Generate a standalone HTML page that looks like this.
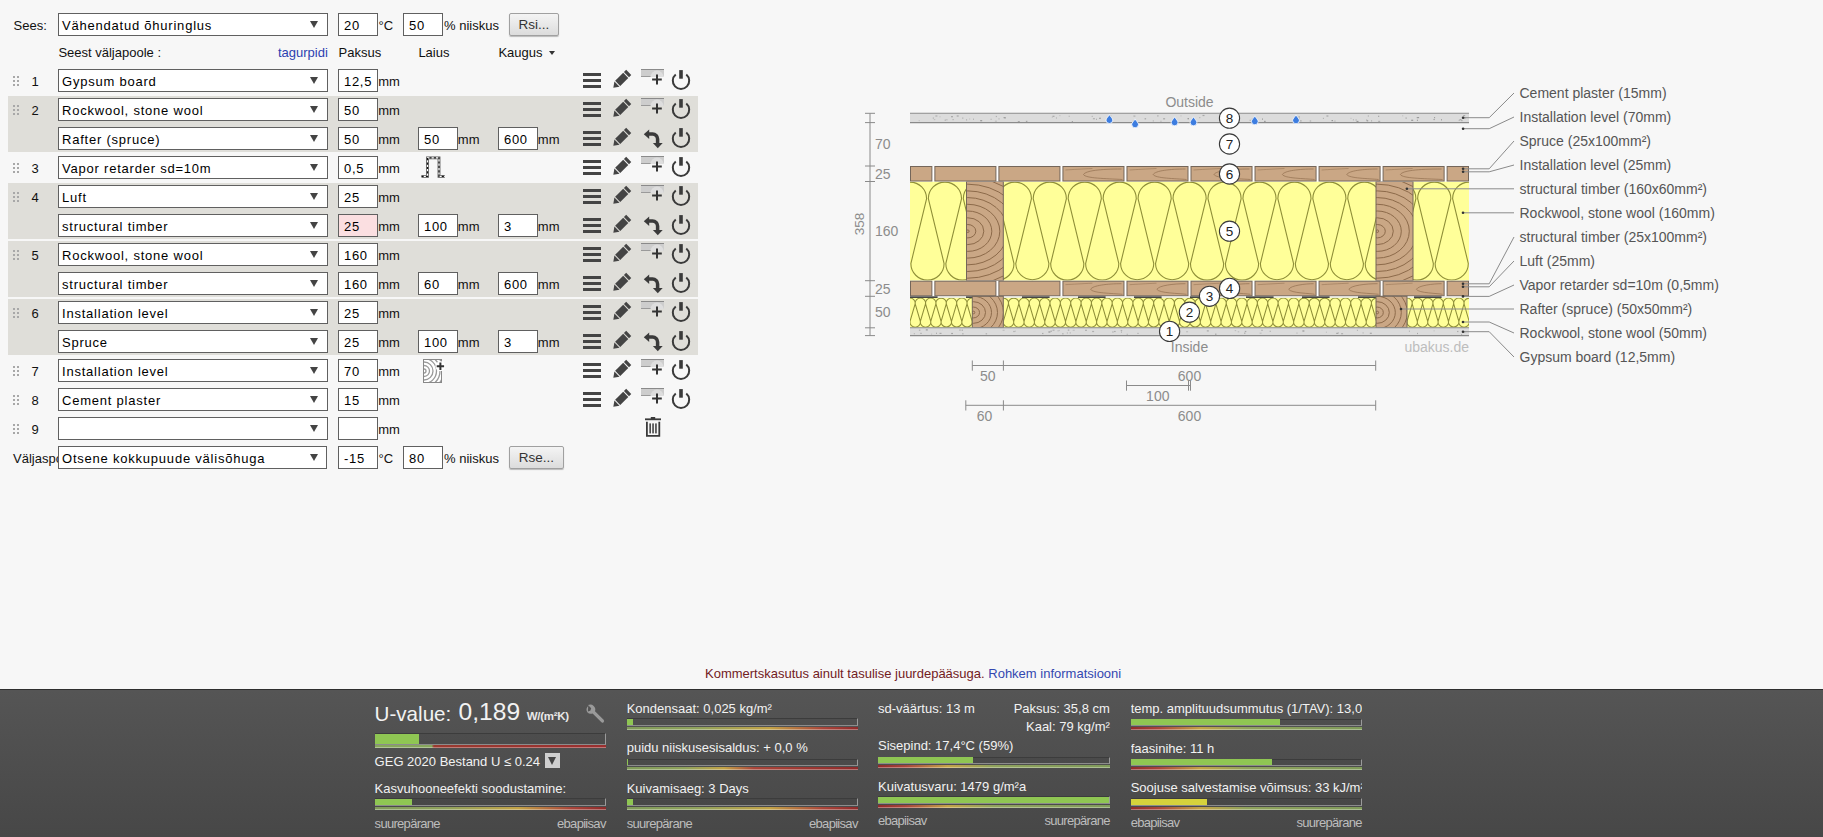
<!DOCTYPE html>
<html><head><meta charset="utf-8"><title>U-value</title>
<style>
*{box-sizing:border-box}
html,body{margin:0;padding:0}
body{width:1823px;height:837px;overflow:hidden;background:#f7f7f7;position:relative;font-family:"Liberation Sans",sans-serif;}
.t{position:absolute;white-space:nowrap;font-family:"Liberation Sans",sans-serif;}
.sel{position:absolute;width:270px;height:23px;background:#fff;border:1px solid #606060;}
.sel .v{position:absolute;left:3px;top:3.5px;font-size:13px;line-height:16px;letter-spacing:0.78px;color:#000;white-space:nowrap}
.sel .ar{position:absolute;left:251px;top:7px;width:0;height:0;border-left:4px solid transparent;border-right:4px solid transparent;border-top:7px solid #444}
.inp{position:absolute;width:40px;height:23px;background:#fff;border:1px solid #606060;}
.inp .v{position:absolute;left:5px;top:4px;font-size:13px;line-height:16px;letter-spacing:0.7px;color:#000;white-space:nowrap}
.btn{position:absolute;height:23px;border:1px solid #a0a0a0;border-radius:2px;background:linear-gradient(#f4f4f4,#dcdcdc);box-shadow:0 1px 1px rgba(0,0,0,.25);font-size:13.5px;line-height:21px;color:#333;text-align:center}
.band{position:absolute;left:8px;width:690px;background:#dfded9}
.dot{position:absolute;width:2px;height:2px;background:#a8a8a8}
svg{position:absolute;left:0;top:0;overflow:visible}
</style></head><body>

<div class="band" style="top:96px;height:56px"></div>
<div class="band" style="top:183px;height:56px"></div>
<div class="band" style="top:241px;height:56px"></div>
<div class="band" style="top:299px;height:56px"></div>
<div class="t " style="left:13.50px;top:18.70px;font-size:13px;line-height:13px;color:#111;">Sees:</div>
<div class="sel" style="left:58px;top:13px;width:270px"><span class="v">Vähendatud õhuringlus</span><span class="ar" style="left:251px"></span></div>
<div class="inp" style="left:338px;top:13px;background:#fff"><span class="v">20</span></div>
<div class="t " style="left:378.50px;top:18.70px;font-size:13px;line-height:13px;color:#111;">°C</div>
<div class="inp" style="left:403px;top:13px;background:#fff"><span class="v">50</span></div>
<div class="t " style="left:444.00px;top:18.70px;font-size:13px;line-height:13px;color:#111;">% niiskus</div>
<div class="btn" style="left:509px;top:13px;width:50px">Rsi...</div>
<div class="t " style="left:58.40px;top:45.60px;font-size:13px;line-height:13px;color:#111;">Seest väljapoole :</div>
<div class="t " style="right:1495.20px;text-align:right;top:45.60px;font-size:13px;line-height:13px;color:#2c3fb0;">tagurpidi</div>
<div class="t " style="left:338.60px;top:45.60px;font-size:13px;line-height:13px;color:#111;">Paksus</div>
<div class="t " style="left:418.40px;top:45.60px;font-size:13px;line-height:13px;color:#111;">Laius</div>
<div class="t " style="left:498.40px;top:45.60px;font-size:13px;line-height:13px;color:#111;">Kaugus</div>
<div style="position:absolute;left:549px;top:51px;width:0;height:0;border-left:3px solid transparent;border-right:3px solid transparent;border-top:4px solid #333"></div>
<div class="dot" style="left:13px;top:76px"></div>
<div class="dot" style="left:13px;top:80px"></div>
<div class="dot" style="left:13px;top:84px"></div>
<div class="dot" style="left:17px;top:76px"></div>
<div class="dot" style="left:17px;top:80px"></div>
<div class="dot" style="left:17px;top:84px"></div>
<div class="t " style="left:31.50px;top:74.70px;font-size:13px;line-height:13px;color:#111;">1</div>
<div class="sel" style="left:58px;top:69px;width:270px"><span class="v">Gypsum board</span><span class="ar" style="left:251px"></span></div>
<div class="inp" style="left:338px;top:69px;background:#fff"><span class="v">12,5</span></div>
<div class="t " style="left:378.20px;top:74.70px;font-size:13px;line-height:13px;color:#111;">mm</div>
<div class="dot" style="left:13px;top:105px"></div>
<div class="dot" style="left:13px;top:109px"></div>
<div class="dot" style="left:13px;top:113px"></div>
<div class="dot" style="left:17px;top:105px"></div>
<div class="dot" style="left:17px;top:109px"></div>
<div class="dot" style="left:17px;top:113px"></div>
<div class="t " style="left:31.50px;top:103.70px;font-size:13px;line-height:13px;color:#111;">2</div>
<div class="sel" style="left:58px;top:98px;width:270px"><span class="v">Rockwool, stone wool</span><span class="ar" style="left:251px"></span></div>
<div class="inp" style="left:338px;top:98px;background:#fff"><span class="v">50</span></div>
<div class="t " style="left:378.20px;top:103.70px;font-size:13px;line-height:13px;color:#111;">mm</div>
<div class="sel" style="left:58px;top:127px;width:270px"><span class="v">Rafter (spruce)</span><span class="ar" style="left:251px"></span></div>
<div class="inp" style="left:338px;top:127px;background:#fff"><span class="v">50</span></div>
<div class="t " style="left:378.20px;top:132.70px;font-size:13px;line-height:13px;color:#111;">mm</div>
<div class="inp" style="left:418px;top:127px;background:#fff"><span class="v">50</span></div>
<div class="t " style="left:457.80px;top:132.70px;font-size:13px;line-height:13px;color:#111;">mm</div>
<div class="inp" style="left:498px;top:127px;background:#fff"><span class="v">600</span></div>
<div class="t " style="left:537.80px;top:132.70px;font-size:13px;line-height:13px;color:#111;">mm</div>
<div class="dot" style="left:13px;top:163px"></div>
<div class="dot" style="left:13px;top:167px"></div>
<div class="dot" style="left:13px;top:171px"></div>
<div class="dot" style="left:17px;top:163px"></div>
<div class="dot" style="left:17px;top:167px"></div>
<div class="dot" style="left:17px;top:171px"></div>
<div class="t " style="left:31.50px;top:161.70px;font-size:13px;line-height:13px;color:#111;">3</div>
<div class="sel" style="left:58px;top:156px;width:270px"><span class="v">Vapor retarder sd=10m</span><span class="ar" style="left:251px"></span></div>
<div class="inp" style="left:338px;top:156px;background:#fff"><span class="v">0,5</span></div>
<div class="t " style="left:378.20px;top:161.70px;font-size:13px;line-height:13px;color:#111;">mm</div>
<div class="dot" style="left:13px;top:192px"></div>
<div class="dot" style="left:13px;top:196px"></div>
<div class="dot" style="left:13px;top:200px"></div>
<div class="dot" style="left:17px;top:192px"></div>
<div class="dot" style="left:17px;top:196px"></div>
<div class="dot" style="left:17px;top:200px"></div>
<div class="t " style="left:31.50px;top:190.70px;font-size:13px;line-height:13px;color:#111;">4</div>
<div class="sel" style="left:58px;top:185px;width:270px"><span class="v">Luft</span><span class="ar" style="left:251px"></span></div>
<div class="inp" style="left:338px;top:185px;background:#fff"><span class="v">25</span></div>
<div class="t " style="left:378.20px;top:190.70px;font-size:13px;line-height:13px;color:#111;">mm</div>
<div class="sel" style="left:58px;top:214px;width:270px"><span class="v">structural timber</span><span class="ar" style="left:251px"></span></div>
<div class="inp" style="left:338px;top:214px;background:#fbdfe1"><span class="v">25</span></div>
<div class="t " style="left:378.20px;top:219.70px;font-size:13px;line-height:13px;color:#111;">mm</div>
<div class="inp" style="left:418px;top:214px;background:#fff"><span class="v">100</span></div>
<div class="t " style="left:457.80px;top:219.70px;font-size:13px;line-height:13px;color:#111;">mm</div>
<div class="inp" style="left:498px;top:214px;background:#fff"><span class="v">3</span></div>
<div class="t " style="left:537.80px;top:219.70px;font-size:13px;line-height:13px;color:#111;">mm</div>
<div class="dot" style="left:13px;top:250px"></div>
<div class="dot" style="left:13px;top:254px"></div>
<div class="dot" style="left:13px;top:258px"></div>
<div class="dot" style="left:17px;top:250px"></div>
<div class="dot" style="left:17px;top:254px"></div>
<div class="dot" style="left:17px;top:258px"></div>
<div class="t " style="left:31.50px;top:248.70px;font-size:13px;line-height:13px;color:#111;">5</div>
<div class="sel" style="left:58px;top:243px;width:270px"><span class="v">Rockwool, stone wool</span><span class="ar" style="left:251px"></span></div>
<div class="inp" style="left:338px;top:243px;background:#fff"><span class="v">160</span></div>
<div class="t " style="left:378.20px;top:248.70px;font-size:13px;line-height:13px;color:#111;">mm</div>
<div class="sel" style="left:58px;top:272px;width:270px"><span class="v">structural timber</span><span class="ar" style="left:251px"></span></div>
<div class="inp" style="left:338px;top:272px;background:#fff"><span class="v">160</span></div>
<div class="t " style="left:378.20px;top:277.70px;font-size:13px;line-height:13px;color:#111;">mm</div>
<div class="inp" style="left:418px;top:272px;background:#fff"><span class="v">60</span></div>
<div class="t " style="left:457.80px;top:277.70px;font-size:13px;line-height:13px;color:#111;">mm</div>
<div class="inp" style="left:498px;top:272px;background:#fff"><span class="v">600</span></div>
<div class="t " style="left:537.80px;top:277.70px;font-size:13px;line-height:13px;color:#111;">mm</div>
<div class="dot" style="left:13px;top:308px"></div>
<div class="dot" style="left:13px;top:312px"></div>
<div class="dot" style="left:13px;top:316px"></div>
<div class="dot" style="left:17px;top:308px"></div>
<div class="dot" style="left:17px;top:312px"></div>
<div class="dot" style="left:17px;top:316px"></div>
<div class="t " style="left:31.50px;top:306.70px;font-size:13px;line-height:13px;color:#111;">6</div>
<div class="sel" style="left:58px;top:301px;width:270px"><span class="v">Installation level</span><span class="ar" style="left:251px"></span></div>
<div class="inp" style="left:338px;top:301px;background:#fff"><span class="v">25</span></div>
<div class="t " style="left:378.20px;top:306.70px;font-size:13px;line-height:13px;color:#111;">mm</div>
<div class="sel" style="left:58px;top:330px;width:270px"><span class="v">Spruce</span><span class="ar" style="left:251px"></span></div>
<div class="inp" style="left:338px;top:330px;background:#fff"><span class="v">25</span></div>
<div class="t " style="left:378.20px;top:335.70px;font-size:13px;line-height:13px;color:#111;">mm</div>
<div class="inp" style="left:418px;top:330px;background:#fff"><span class="v">100</span></div>
<div class="t " style="left:457.80px;top:335.70px;font-size:13px;line-height:13px;color:#111;">mm</div>
<div class="inp" style="left:498px;top:330px;background:#fff"><span class="v">3</span></div>
<div class="t " style="left:537.80px;top:335.70px;font-size:13px;line-height:13px;color:#111;">mm</div>
<div class="dot" style="left:13px;top:366px"></div>
<div class="dot" style="left:13px;top:370px"></div>
<div class="dot" style="left:13px;top:374px"></div>
<div class="dot" style="left:17px;top:366px"></div>
<div class="dot" style="left:17px;top:370px"></div>
<div class="dot" style="left:17px;top:374px"></div>
<div class="t " style="left:31.50px;top:364.70px;font-size:13px;line-height:13px;color:#111;">7</div>
<div class="sel" style="left:58px;top:359px;width:270px"><span class="v">Installation level</span><span class="ar" style="left:251px"></span></div>
<div class="inp" style="left:338px;top:359px;background:#fff"><span class="v">70</span></div>
<div class="t " style="left:378.20px;top:364.70px;font-size:13px;line-height:13px;color:#111;">mm</div>
<div class="dot" style="left:13px;top:395px"></div>
<div class="dot" style="left:13px;top:399px"></div>
<div class="dot" style="left:13px;top:403px"></div>
<div class="dot" style="left:17px;top:395px"></div>
<div class="dot" style="left:17px;top:399px"></div>
<div class="dot" style="left:17px;top:403px"></div>
<div class="t " style="left:31.50px;top:393.70px;font-size:13px;line-height:13px;color:#111;">8</div>
<div class="sel" style="left:58px;top:388px;width:270px"><span class="v">Cement plaster</span><span class="ar" style="left:251px"></span></div>
<div class="inp" style="left:338px;top:388px;background:#fff"><span class="v">15</span></div>
<div class="t " style="left:378.20px;top:393.70px;font-size:13px;line-height:13px;color:#111;">mm</div>
<div class="dot" style="left:13px;top:424px"></div>
<div class="dot" style="left:13px;top:428px"></div>
<div class="dot" style="left:13px;top:432px"></div>
<div class="dot" style="left:17px;top:424px"></div>
<div class="dot" style="left:17px;top:428px"></div>
<div class="dot" style="left:17px;top:432px"></div>
<div class="t " style="left:31.50px;top:422.70px;font-size:13px;line-height:13px;color:#111;">9</div>
<div class="sel" style="left:58px;top:417px;width:270px"><span class="v"></span><span class="ar" style="left:251px"></span></div>
<div class="inp" style="left:338px;top:417px;background:#fff"><span class="v"></span></div>
<div class="t " style="left:378.20px;top:422.70px;font-size:13px;line-height:13px;color:#111;">mm</div>
<div class="t " style="left:13.00px;top:451.70px;font-size:13px;line-height:13px;color:#111;">Väljaspool:</div>
<div class="sel" style="left:58px;top:446px;width:269px"><span class="v">Otsene kokkupuude välisõhuga</span><span class="ar" style="left:251px"></span></div>
<div class="inp" style="left:338px;top:446px;background:#fff"><span class="v">-15</span></div>
<div class="t " style="left:378.50px;top:451.70px;font-size:13px;line-height:13px;color:#111;">°C</div>
<div class="inp" style="left:403px;top:446px;background:#fff"><span class="v">80</span></div>
<div class="t " style="left:444.00px;top:451.70px;font-size:13px;line-height:13px;color:#111;">% niiskus</div>
<div class="btn" style="left:509px;top:446px;width:55px">Rse...</div>
<svg width="1823" height="689" viewBox="0 0 1823 689"><g fill="#444"><rect x="583" y="73" width="18" height="3"/><rect x="583" y="79" width="18" height="3"/><rect x="583" y="85" width="18" height="3"/></g><g transform="translate(613.3 87.8) rotate(-45)" fill="#444"><path d="M0 0 L5.2 -3.6 L5.2 3.6 Z"/><rect x="6.2" y="-3.6" width="11.4" height="7.2"/><rect x="18.6" y="-3.6" width="3.2" height="7.2"/></g><g><rect x="641" y="69.5" width="23" height="7" fill="#cdcdcd"/><path d="M641 69.5 H664" stroke="#8a8a8a" stroke-width="1"/><path d="M641 76.5 H651" stroke="#9a9a9a" stroke-width="1"/><path d="M650.5 77 A6.5 6.5 0 0 1 663.5 77 Z" fill="#dedede"/><path d="M657 74.6 V84.6 M652.1 79.5 H661.8" stroke="#333" stroke-width="2"/></g><g><path d="M675.73 74.42 A8.2 8.2 0 1 0 686.27 74.42" fill="none" stroke="#3a3a3a" stroke-width="2"/><rect x="679.2" y="70.1" width="3.6" height="8.6" fill="#3a3a3a"/></g><g fill="#444"><rect x="583" y="102" width="18" height="3"/><rect x="583" y="108" width="18" height="3"/><rect x="583" y="114" width="18" height="3"/></g><g transform="translate(613.3 116.8) rotate(-45)" fill="#444"><path d="M0 0 L5.2 -3.6 L5.2 3.6 Z"/><rect x="6.2" y="-3.6" width="11.4" height="7.2"/><rect x="18.6" y="-3.6" width="3.2" height="7.2"/></g><g><rect x="641" y="98.5" width="23" height="7" fill="#cdcdcd"/><path d="M641 98.5 H664" stroke="#8a8a8a" stroke-width="1"/><path d="M641 105.5 H651" stroke="#9a9a9a" stroke-width="1"/><path d="M650.5 106 A6.5 6.5 0 0 1 663.5 106 Z" fill="#dedede"/><path d="M657 103.6 V113.6 M652.1 108.5 H661.8" stroke="#333" stroke-width="2"/></g><g><path d="M675.73 103.42 A8.2 8.2 0 1 0 686.27 103.42" fill="none" stroke="#3a3a3a" stroke-width="2"/><rect x="679.2" y="99.1" width="3.6" height="8.6" fill="#3a3a3a"/></g><g fill="#444"><rect x="583" y="131" width="18" height="3"/><rect x="583" y="137" width="18" height="3"/><rect x="583" y="143" width="18" height="3"/></g><g transform="translate(613.3 145.8) rotate(-45)" fill="#444"><path d="M0 0 L5.2 -3.6 L5.2 3.6 Z"/><rect x="6.2" y="-3.6" width="11.4" height="7.2"/><rect x="18.6" y="-3.6" width="3.2" height="7.2"/></g><g transform="translate(0 0)"><path d="M648.5 134 H652.6 A5 5 0 0 1 657.6 139 V143.6" fill="none" stroke="#3a3a3a" stroke-width="3.5"/><path d="M643.8 134.3 L649.2 129.6 L649.2 139 Z" fill="#3a3a3a"/><path d="M652.9 143 L662.7 143 L657.8 148.2 Z" fill="#3a3a3a"/></g><g><path d="M675.73 132.42 A8.2 8.2 0 1 0 686.27 132.42" fill="none" stroke="#3a3a3a" stroke-width="2"/><rect x="679.2" y="128.1" width="3.6" height="8.6" fill="#3a3a3a"/></g><g fill="#444"><rect x="583" y="160" width="18" height="3"/><rect x="583" y="166" width="18" height="3"/><rect x="583" y="172" width="18" height="3"/></g><g transform="translate(613.3 174.8) rotate(-45)" fill="#444"><path d="M0 0 L5.2 -3.6 L5.2 3.6 Z"/><rect x="6.2" y="-3.6" width="11.4" height="7.2"/><rect x="18.6" y="-3.6" width="3.2" height="7.2"/></g><g><rect x="641" y="156.5" width="23" height="7" fill="#cdcdcd"/><path d="M641 156.5 H664" stroke="#8a8a8a" stroke-width="1"/><path d="M641 163.5 H651" stroke="#9a9a9a" stroke-width="1"/><path d="M650.5 164 A6.5 6.5 0 0 1 663.5 164 Z" fill="#dedede"/><path d="M657 161.6 V171.6 M652.1 166.5 H661.8" stroke="#333" stroke-width="2"/></g><g><path d="M675.73 161.42 A8.2 8.2 0 1 0 686.27 161.42" fill="none" stroke="#3a3a3a" stroke-width="2"/><rect x="679.2" y="157.1" width="3.6" height="8.6" fill="#3a3a3a"/></g><g fill="#444"><rect x="583" y="189" width="18" height="3"/><rect x="583" y="195" width="18" height="3"/><rect x="583" y="201" width="18" height="3"/></g><g transform="translate(613.3 203.8) rotate(-45)" fill="#444"><path d="M0 0 L5.2 -3.6 L5.2 3.6 Z"/><rect x="6.2" y="-3.6" width="11.4" height="7.2"/><rect x="18.6" y="-3.6" width="3.2" height="7.2"/></g><g><rect x="641" y="185.5" width="23" height="7" fill="#cdcdcd"/><path d="M641 185.5 H664" stroke="#8a8a8a" stroke-width="1"/><path d="M641 192.5 H651" stroke="#9a9a9a" stroke-width="1"/><path d="M650.5 193 A6.5 6.5 0 0 1 663.5 193 Z" fill="#dedede"/><path d="M657 190.6 V200.6 M652.1 195.5 H661.8" stroke="#333" stroke-width="2"/></g><g><path d="M675.73 190.42 A8.2 8.2 0 1 0 686.27 190.42" fill="none" stroke="#3a3a3a" stroke-width="2"/><rect x="679.2" y="186.1" width="3.6" height="8.6" fill="#3a3a3a"/></g><g fill="#444"><rect x="583" y="218" width="18" height="3"/><rect x="583" y="224" width="18" height="3"/><rect x="583" y="230" width="18" height="3"/></g><g transform="translate(613.3 232.8) rotate(-45)" fill="#444"><path d="M0 0 L5.2 -3.6 L5.2 3.6 Z"/><rect x="6.2" y="-3.6" width="11.4" height="7.2"/><rect x="18.6" y="-3.6" width="3.2" height="7.2"/></g><g transform="translate(0 87)"><path d="M648.5 134 H652.6 A5 5 0 0 1 657.6 139 V143.6" fill="none" stroke="#3a3a3a" stroke-width="3.5"/><path d="M643.8 134.3 L649.2 129.6 L649.2 139 Z" fill="#3a3a3a"/><path d="M652.9 143 L662.7 143 L657.8 148.2 Z" fill="#3a3a3a"/></g><g><path d="M675.73 219.42 A8.2 8.2 0 1 0 686.27 219.42" fill="none" stroke="#3a3a3a" stroke-width="2"/><rect x="679.2" y="215.1" width="3.6" height="8.6" fill="#3a3a3a"/></g><g fill="#444"><rect x="583" y="247" width="18" height="3"/><rect x="583" y="253" width="18" height="3"/><rect x="583" y="259" width="18" height="3"/></g><g transform="translate(613.3 261.8) rotate(-45)" fill="#444"><path d="M0 0 L5.2 -3.6 L5.2 3.6 Z"/><rect x="6.2" y="-3.6" width="11.4" height="7.2"/><rect x="18.6" y="-3.6" width="3.2" height="7.2"/></g><g><rect x="641" y="243.5" width="23" height="7" fill="#cdcdcd"/><path d="M641 243.5 H664" stroke="#8a8a8a" stroke-width="1"/><path d="M641 250.5 H651" stroke="#9a9a9a" stroke-width="1"/><path d="M650.5 251 A6.5 6.5 0 0 1 663.5 251 Z" fill="#dedede"/><path d="M657 248.6 V258.6 M652.1 253.5 H661.8" stroke="#333" stroke-width="2"/></g><g><path d="M675.73 248.42 A8.2 8.2 0 1 0 686.27 248.42" fill="none" stroke="#3a3a3a" stroke-width="2"/><rect x="679.2" y="244.1" width="3.6" height="8.6" fill="#3a3a3a"/></g><g fill="#444"><rect x="583" y="276" width="18" height="3"/><rect x="583" y="282" width="18" height="3"/><rect x="583" y="288" width="18" height="3"/></g><g transform="translate(613.3 290.8) rotate(-45)" fill="#444"><path d="M0 0 L5.2 -3.6 L5.2 3.6 Z"/><rect x="6.2" y="-3.6" width="11.4" height="7.2"/><rect x="18.6" y="-3.6" width="3.2" height="7.2"/></g><g transform="translate(0 145)"><path d="M648.5 134 H652.6 A5 5 0 0 1 657.6 139 V143.6" fill="none" stroke="#3a3a3a" stroke-width="3.5"/><path d="M643.8 134.3 L649.2 129.6 L649.2 139 Z" fill="#3a3a3a"/><path d="M652.9 143 L662.7 143 L657.8 148.2 Z" fill="#3a3a3a"/></g><g><path d="M675.73 277.42 A8.2 8.2 0 1 0 686.27 277.42" fill="none" stroke="#3a3a3a" stroke-width="2"/><rect x="679.2" y="273.1" width="3.6" height="8.6" fill="#3a3a3a"/></g><g fill="#444"><rect x="583" y="305" width="18" height="3"/><rect x="583" y="311" width="18" height="3"/><rect x="583" y="317" width="18" height="3"/></g><g transform="translate(613.3 319.8) rotate(-45)" fill="#444"><path d="M0 0 L5.2 -3.6 L5.2 3.6 Z"/><rect x="6.2" y="-3.6" width="11.4" height="7.2"/><rect x="18.6" y="-3.6" width="3.2" height="7.2"/></g><g><rect x="641" y="301.5" width="23" height="7" fill="#cdcdcd"/><path d="M641 301.5 H664" stroke="#8a8a8a" stroke-width="1"/><path d="M641 308.5 H651" stroke="#9a9a9a" stroke-width="1"/><path d="M650.5 309 A6.5 6.5 0 0 1 663.5 309 Z" fill="#dedede"/><path d="M657 306.6 V316.6 M652.1 311.5 H661.8" stroke="#333" stroke-width="2"/></g><g><path d="M675.73 306.42 A8.2 8.2 0 1 0 686.27 306.42" fill="none" stroke="#3a3a3a" stroke-width="2"/><rect x="679.2" y="302.1" width="3.6" height="8.6" fill="#3a3a3a"/></g><g fill="#444"><rect x="583" y="334" width="18" height="3"/><rect x="583" y="340" width="18" height="3"/><rect x="583" y="346" width="18" height="3"/></g><g transform="translate(613.3 348.8) rotate(-45)" fill="#444"><path d="M0 0 L5.2 -3.6 L5.2 3.6 Z"/><rect x="6.2" y="-3.6" width="11.4" height="7.2"/><rect x="18.6" y="-3.6" width="3.2" height="7.2"/></g><g transform="translate(0 203)"><path d="M648.5 134 H652.6 A5 5 0 0 1 657.6 139 V143.6" fill="none" stroke="#3a3a3a" stroke-width="3.5"/><path d="M643.8 134.3 L649.2 129.6 L649.2 139 Z" fill="#3a3a3a"/><path d="M652.9 143 L662.7 143 L657.8 148.2 Z" fill="#3a3a3a"/></g><g><path d="M675.73 335.42 A8.2 8.2 0 1 0 686.27 335.42" fill="none" stroke="#3a3a3a" stroke-width="2"/><rect x="679.2" y="331.1" width="3.6" height="8.6" fill="#3a3a3a"/></g><g fill="#444"><rect x="583" y="363" width="18" height="3"/><rect x="583" y="369" width="18" height="3"/><rect x="583" y="375" width="18" height="3"/></g><g transform="translate(613.3 377.8) rotate(-45)" fill="#444"><path d="M0 0 L5.2 -3.6 L5.2 3.6 Z"/><rect x="6.2" y="-3.6" width="11.4" height="7.2"/><rect x="18.6" y="-3.6" width="3.2" height="7.2"/></g><g><rect x="641" y="359.5" width="23" height="7" fill="#cdcdcd"/><path d="M641 359.5 H664" stroke="#8a8a8a" stroke-width="1"/><path d="M641 366.5 H651" stroke="#9a9a9a" stroke-width="1"/><path d="M650.5 367 A6.5 6.5 0 0 1 663.5 367 Z" fill="#dedede"/><path d="M657 364.6 V374.6 M652.1 369.5 H661.8" stroke="#333" stroke-width="2"/></g><g><path d="M675.73 364.42 A8.2 8.2 0 1 0 686.27 364.42" fill="none" stroke="#3a3a3a" stroke-width="2"/><rect x="679.2" y="360.1" width="3.6" height="8.6" fill="#3a3a3a"/></g><g fill="#444"><rect x="583" y="392" width="18" height="3"/><rect x="583" y="398" width="18" height="3"/><rect x="583" y="404" width="18" height="3"/></g><g transform="translate(613.3 406.8) rotate(-45)" fill="#444"><path d="M0 0 L5.2 -3.6 L5.2 3.6 Z"/><rect x="6.2" y="-3.6" width="11.4" height="7.2"/><rect x="18.6" y="-3.6" width="3.2" height="7.2"/></g><g><rect x="641" y="388.5" width="23" height="7" fill="#cdcdcd"/><path d="M641 388.5 H664" stroke="#8a8a8a" stroke-width="1"/><path d="M641 395.5 H651" stroke="#9a9a9a" stroke-width="1"/><path d="M650.5 396 A6.5 6.5 0 0 1 663.5 396 Z" fill="#dedede"/><path d="M657 393.6 V403.6 M652.1 398.5 H661.8" stroke="#333" stroke-width="2"/></g><g><path d="M675.73 393.42 A8.2 8.2 0 1 0 686.27 393.42" fill="none" stroke="#3a3a3a" stroke-width="2"/><rect x="679.2" y="389.1" width="3.6" height="8.6" fill="#3a3a3a"/></g><g transform="translate(0 0)" fill="#3a3a3a"><rect x="645" y="418.4" width="16" height="1.8"/><rect x="650.8" y="417" width="4.4" height="2"/><path d="M646 421.8 H647.8 V435 H658.4 V421.8 H660.2 V436.8 H646 Z"/><rect x="649.4" y="423.4" width="1.5" height="10"/><rect x="652.3" y="423.4" width="1.5" height="10"/><rect x="655.2" y="423.4" width="1.5" height="10"/></g><g fill="none"><path d="M421.5 176.3 H427.5 V157.8 H439 V176.3 H444.8" stroke="#555" stroke-width="2.8"/><path d="M421.5 176.3 H427.5 V157.8 H439 V176.3 H444.8" stroke="#fff" stroke-width="1.2"/><path d="M421.5 176.3 H427.5 V157.8 H439 V176.3 H444.8" stroke="#111" stroke-width="1.3" stroke-dasharray="2.2 2.2"/></g><g><rect x="423.5" y="359.5" width="18" height="23" fill="#fff" stroke="#888" stroke-width="1"/><clipPath id="ilc"><rect x="424" y="360" width="17" height="22"/></clipPath><g clip-path="url(#ilc)" fill="none" stroke="#9a9a9a" stroke-width="1.3"><circle cx="424" cy="371" r="2"/><circle cx="424" cy="371" r="5.5"/><circle cx="424" cy="371" r="9"/><circle cx="424" cy="371" r="12.5"/><circle cx="424" cy="371" r="16"/><circle cx="424" cy="371" r="19.5"/></g><circle cx="440.4" cy="366.3" r="5" fill="#fff"/><path d="M440.4 362.6 V370 M436.7 366.3 H444.1" stroke="#333" stroke-width="2"/></g></svg>
<svg width="1823" height="689" viewBox="0 0 1823 689"><rect x="910.0" y="113.3" width="559.0" height="9.299999999999997" fill="#dcdcdc"/><rect x="1091.7" y="115.8" width="1" height="1.2" fill="#b0b0b0"/><rect x="1367.8" y="115.4" width="1" height="1.2" fill="#a8a8a8"/><rect x="932.8" y="117.5" width="1" height="1.2" fill="#a8a8a8"/><rect x="962.3" y="117.5" width="1" height="1.2" fill="#a8a8a8"/><rect x="1262.0" y="118.5" width="1" height="1.2" fill="#999"/><rect x="939.5" y="116.2" width="1" height="1.2" fill="#c0c0c0"/><rect x="1144.6" y="118.2" width="1.5" height="1.2" fill="#a8a8a8"/><rect x="969.2" y="118.4" width="1" height="1.2" fill="#c0c0c0"/><rect x="966.1" y="119.3" width="1" height="1.2" fill="#a8a8a8"/><rect x="1187.5" y="118.1" width="1.5" height="1.2" fill="#999"/><rect x="1237.0" y="117.7" width="1.5" height="1.2" fill="#a8a8a8"/><rect x="1352.9" y="119.2" width="1" height="1.2" fill="#b0b0b0"/><rect x="1230.8" y="118.1" width="1.5" height="1.2" fill="#999"/><rect x="1071.8" y="121.0" width="1" height="1.2" fill="#999"/><rect x="1003.6" y="117.0" width="2" height="1.2" fill="#999"/><rect x="933.8" y="119.0" width="1.5" height="1.2" fill="#c0c0c0"/><rect x="1297.9" y="118.5" width="2" height="1.2" fill="#b0b0b0"/><rect x="1378.2" y="120.8" width="2" height="1.2" fill="#b0b0b0"/><rect x="945.7" y="119.2" width="2" height="1.2" fill="#c0c0c0"/><rect x="1309.7" y="120.4" width="1.5" height="1.2" fill="#b0b0b0"/><rect x="1434.1" y="117.0" width="1" height="1.2" fill="#999"/><rect x="944.7" y="119.6" width="1" height="1.2" fill="#a8a8a8"/><rect x="1132.8" y="120.6" width="2" height="1.2" fill="#b0b0b0"/><rect x="1004.3" y="117.3" width="1.5" height="1.2" fill="#a8a8a8"/><rect x="1366.7" y="120.2" width="1.5" height="1.2" fill="#999"/><rect x="1459.5" y="119.1" width="2" height="1.2" fill="#a8a8a8"/><rect x="995.8" y="115.9" width="1" height="1.2" fill="#a8a8a8"/><rect x="918.7" y="120.0" width="1" height="1.2" fill="#c0c0c0"/><rect x="1068.5" y="115.7" width="1.5" height="1.2" fill="#c0c0c0"/><rect x="1441.0" y="119.2" width="1" height="1.2" fill="#999"/><rect x="1411.2" y="119.7" width="2" height="1.2" fill="#999"/><rect x="1133.4" y="115.5" width="2" height="1.2" fill="#b0b0b0"/><rect x="1017.8" y="121.0" width="2" height="1.2" fill="#a8a8a8"/><rect x="973.0" y="118.6" width="1" height="1.2" fill="#b0b0b0"/><rect x="1226.6" y="118.2" width="1.5" height="1.2" fill="#b0b0b0"/><rect x="951.0" y="116.1" width="2" height="1.2" fill="#a8a8a8"/><rect x="1264.1" y="120.8" width="1.5" height="1.2" fill="#999"/><rect x="980.2" y="120.1" width="2" height="1.2" fill="#999"/><rect x="1180.5" y="115.3" width="1" height="1.2" fill="#c0c0c0"/><rect x="1322.9" y="117.8" width="1" height="1.2" fill="#b0b0b0"/><rect x="1025.9" y="120.8" width="1.5" height="1.2" fill="#a8a8a8"/><rect x="1295.0" y="120.6" width="1.5" height="1.2" fill="#b0b0b0"/><rect x="1298.4" y="116.4" width="1.5" height="1.2" fill="#a8a8a8"/><rect x="1109.4" y="116.2" width="1.5" height="1.2" fill="#a8a8a8"/><rect x="1252.3" y="119.8" width="1" height="1.2" fill="#a8a8a8"/><rect x="1366.2" y="119.5" width="1" height="1.2" fill="#a8a8a8"/><rect x="1199.3" y="117.0" width="1" height="1.2" fill="#b0b0b0"/><rect x="1350.5" y="117.8" width="1" height="1.2" fill="#c0c0c0"/><rect x="1160.2" y="120.7" width="1.5" height="1.2" fill="#c0c0c0"/><rect x="956.7" y="115.4" width="2" height="1.2" fill="#a8a8a8"/><rect x="1099.4" y="117.8" width="1" height="1.2" fill="#999"/><rect x="1416.6" y="117.0" width="1" height="1.2" fill="#b0b0b0"/><rect x="1416.9" y="119.7" width="1" height="1.2" fill="#999"/><rect x="1405.4" y="117.5" width="1.5" height="1.2" fill="#b0b0b0"/><rect x="1356.5" y="120.9" width="2" height="1.2" fill="#999"/><rect x="1134.8" y="120.8" width="1" height="1.2" fill="#a8a8a8"/><rect x="1463.2" y="115.0" width="2" height="1.2" fill="#a8a8a8"/><rect x="1251.4" y="118.6" width="2" height="1.2" fill="#c0c0c0"/><rect x="998.5" y="118.3" width="1" height="1.2" fill="#b0b0b0"/><rect x="1355.6" y="119.4" width="1" height="1.2" fill="#a8a8a8"/><rect x="1152.8" y="120.3" width="1" height="1.2" fill="#b0b0b0"/><rect x="1051.8" y="116.6" width="1" height="1.2" fill="#c0c0c0"/><rect x="1055.9" y="117.4" width="1" height="1.2" fill="#b0b0b0"/><rect x="1417.1" y="117.0" width="2" height="1.2" fill="#999"/><rect x="1371.1" y="120.3" width="1" height="1.2" fill="#a8a8a8"/><rect x="1202.5" y="114.9" width="2" height="1.2" fill="#a8a8a8"/><rect x="1249.7" y="119.7" width="1" height="1.2" fill="#a8a8a8"/><rect x="990.6" y="118.7" width="1" height="1.2" fill="#b0b0b0"/><rect x="1092.9" y="118.1" width="2" height="1.2" fill="#b0b0b0"/><rect x="1402.2" y="115.2" width="1" height="1.2" fill="#c0c0c0"/><rect x="935.4" y="115.4" width="2" height="1.2" fill="#b0b0b0"/><rect x="1333.8" y="120.5" width="2" height="1.2" fill="#c0c0c0"/><rect x="1252.0" y="118.0" width="1" height="1.2" fill="#c0c0c0"/><rect x="1163.1" y="118.2" width="2" height="1.2" fill="#a8a8a8"/><rect x="1300.1" y="120.3" width="1.5" height="1.2" fill="#a8a8a8"/><rect x="1378.2" y="115.7" width="1" height="1.2" fill="#999"/><rect x="1157.4" y="115.3" width="1" height="1.2" fill="#999"/><rect x="952.6" y="119.0" width="1" height="1.2" fill="#a8a8a8"/><rect x="1433.4" y="118.9" width="1.5" height="1.2" fill="#a8a8a8"/><rect x="1052.5" y="115.7" width="2" height="1.2" fill="#a8a8a8"/><rect x="1326.4" y="115.4" width="2" height="1.2" fill="#a8a8a8"/><rect x="1461.4" y="120.0" width="1" height="1.2" fill="#999"/><rect x="1463.7" y="117.3" width="2" height="1.2" fill="#a8a8a8"/><rect x="1109.9" y="115.4" width="1.5" height="1.2" fill="#b0b0b0"/><rect x="1099.6" y="117.7" width="1" height="1.2" fill="#999"/><rect x="1096.0" y="118.7" width="1" height="1.2" fill="#b0b0b0"/><rect x="1458.7" y="119.8" width="1" height="1.2" fill="#b0b0b0"/><rect x="1059.4" y="115.0" width="1" height="1.2" fill="#c0c0c0"/><rect x="1331.5" y="120.0" width="1.5" height="1.2" fill="#999"/><rect x="994.9" y="120.6" width="2" height="1.2" fill="#c0c0c0"/><path d="M910.0 113.3 H1469.0 M910.0 122.6 H1469.0" stroke="#8a8a8a" stroke-width="1.1"/><defs><clipPath id="c5"><rect x="910.0" y="181.5" width="559.0" height="99.19999999999999"/></clipPath><clipPath id="c2a"><rect x="910.0" y="297.5" width="62.299999999999955" height="30.30000000000001"/></clipPath><clipPath id="c2b"><rect x="1003.3" y="297.5" width="372.70000000000005" height="30.30000000000001"/></clipPath><clipPath id="c2c"><rect x="1407" y="297.5" width="62.0" height="30.30000000000001"/></clipPath></defs><rect x="910.0" y="181.5" width="559.0" height="99.19999999999999" fill="#ffff99"/><g clip-path="url(#c5)"><path d="M874.17 263.50 L858.45 198.70 A16.6 16.6 0 0 1 891.65 198.70 L875.92 263.50 A16.6 16.6 0 0 0 909.12 263.50 L893.40 198.70 A16.6 16.6 0 0 1 926.60 198.70 L910.88 263.50 A16.6 16.6 0 0 0 944.08 263.50 L928.35 198.70 A16.6 16.6 0 0 1 961.55 198.70 L945.83 263.50 A16.6 16.6 0 0 0 979.03 263.50 L963.30 198.70 A16.6 16.6 0 0 1 996.50 198.70 L980.77 263.50 A16.6 16.6 0 0 0 1013.98 263.50 L998.25 198.70 A16.6 16.6 0 0 1 1031.45 198.70 L1015.73 263.50 A16.6 16.6 0 0 0 1048.92 263.50 L1033.20 198.70 A16.6 16.6 0 0 1 1066.40 198.70 L1050.67 263.50 A16.6 16.6 0 0 0 1083.87 263.50 L1068.15 198.70 A16.6 16.6 0 0 1 1101.35 198.70 L1085.62 263.50 A16.6 16.6 0 0 0 1118.82 263.50 L1103.10 198.70 A16.6 16.6 0 0 1 1136.30 198.70 L1120.58 263.50 A16.6 16.6 0 0 0 1153.77 263.50 L1138.05 198.70 A16.6 16.6 0 0 1 1171.25 198.70 L1155.53 263.50 A16.6 16.6 0 0 0 1188.72 263.50 L1173.00 198.70 A16.6 16.6 0 0 1 1206.20 198.70 L1190.47 263.50 A16.6 16.6 0 0 0 1223.67 263.50 L1207.95 198.70 A16.6 16.6 0 0 1 1241.15 198.70 L1225.42 263.50 A16.6 16.6 0 0 0 1258.62 263.50 L1242.90 198.70 A16.6 16.6 0 0 1 1276.10 198.70 L1260.38 263.50 A16.6 16.6 0 0 0 1293.57 263.50 L1277.85 198.70 A16.6 16.6 0 0 1 1311.05 198.70 L1295.33 263.50 A16.6 16.6 0 0 0 1328.52 263.50 L1312.80 198.70 A16.6 16.6 0 0 1 1346.00 198.70 L1330.28 263.50 A16.6 16.6 0 0 0 1363.47 263.50 L1347.75 198.70 A16.6 16.6 0 0 1 1380.95 198.70 L1365.22 263.50 A16.6 16.6 0 0 0 1398.42 263.50 L1382.70 198.70 A16.6 16.6 0 0 1 1415.90 198.70 L1400.18 263.50 A16.6 16.6 0 0 0 1433.38 263.50 L1417.65 198.70 A16.6 16.6 0 0 1 1450.85 198.70 L1435.12 263.50 A16.6 16.6 0 0 0 1468.32 263.50 L1452.60 198.70 A16.6 16.6 0 0 1 1485.80 198.70 L1470.08 263.50 A16.6 16.6 0 0 0 1503.27 263.50 L1487.55 198.70 A16.6 16.6 0 0 1 1520.75 198.70 L1505.03 263.50 A16.6 16.6 0 0 0 1538.22 263.50 L1522.50 198.70" fill="none" stroke="#8f8f38" stroke-width="1.1"/></g><rect x="910.0" y="297.5" width="559.0" height="30.30000000000001" fill="#ffff99"/><g clip-path="url(#c2a)"><path d="M899.75 321.90 L894.33 303.40 A5.3 5.3 0 0 1 904.93 303.40 L899.51 321.90 A5.3 5.3 0 0 0 910.11 321.90 L904.70 303.40 A5.3 5.3 0 0 1 915.30 303.40 L909.88 321.90 A5.3 5.3 0 0 0 920.48 321.90 L915.07 303.40 A5.3 5.3 0 0 1 925.67 303.40 L920.25 321.90 A5.3 5.3 0 0 0 930.85 321.90 L925.44 303.40 A5.3 5.3 0 0 1 936.04 303.40 L930.62 321.90 A5.3 5.3 0 0 0 941.22 321.90 L935.81 303.40 A5.3 5.3 0 0 1 946.41 303.40 L941.00 321.90 A5.3 5.3 0 0 0 951.59 321.90 L946.18 303.40 A5.3 5.3 0 0 1 956.78 303.40 L951.37 321.90 A5.3 5.3 0 0 0 961.96 321.90 L956.55 303.40 A5.3 5.3 0 0 1 967.15 303.40 L961.74 321.90 A5.3 5.3 0 0 0 972.33 321.90 L966.92 303.40 A5.3 5.3 0 0 1 977.52 303.40 L972.11 321.90 A5.3 5.3 0 0 0 982.70 321.90 L977.29 303.40 A5.3 5.3 0 0 1 987.89 303.40 L982.48 321.90 A5.3 5.3 0 0 0 993.07 321.90 L987.66 303.40 A5.3 5.3 0 0 1 998.26 303.40 L992.85 321.90 A5.3 5.3 0 0 0 1003.44 321.90 L998.03 303.40" fill="none" stroke="#8f8f38" stroke-width="1.05"/></g><g clip-path="url(#c2b)"><path d="M993.04 321.90 L987.63 303.40 A5.3 5.3 0 0 1 998.23 303.40 L992.81 321.90 A5.3 5.3 0 0 0 1003.41 321.90 L998.00 303.40 A5.3 5.3 0 0 1 1008.60 303.40 L1003.18 321.90 A5.3 5.3 0 0 0 1013.78 321.90 L1008.37 303.40 A5.3 5.3 0 0 1 1018.97 303.40 L1013.55 321.90 A5.3 5.3 0 0 0 1024.15 321.90 L1018.74 303.40 A5.3 5.3 0 0 1 1029.34 303.40 L1023.92 321.90 A5.3 5.3 0 0 0 1034.52 321.90 L1029.11 303.40 A5.3 5.3 0 0 1 1039.71 303.40 L1034.29 321.90 A5.3 5.3 0 0 0 1044.89 321.90 L1039.48 303.40 A5.3 5.3 0 0 1 1050.08 303.40 L1044.66 321.90 A5.3 5.3 0 0 0 1055.26 321.90 L1049.85 303.40 A5.3 5.3 0 0 1 1060.45 303.40 L1055.03 321.90 A5.3 5.3 0 0 0 1065.63 321.90 L1060.22 303.40 A5.3 5.3 0 0 1 1070.82 303.40 L1065.40 321.90 A5.3 5.3 0 0 0 1076.00 321.90 L1070.59 303.40 A5.3 5.3 0 0 1 1081.19 303.40 L1075.77 321.90 A5.3 5.3 0 0 0 1086.37 321.90 L1080.96 303.40 A5.3 5.3 0 0 1 1091.56 303.40 L1086.14 321.90 A5.3 5.3 0 0 0 1096.74 321.90 L1091.33 303.40 A5.3 5.3 0 0 1 1101.93 303.40 L1096.51 321.90 A5.3 5.3 0 0 0 1107.11 321.90 L1101.70 303.40 A5.3 5.3 0 0 1 1112.30 303.40 L1106.88 321.90 A5.3 5.3 0 0 0 1117.48 321.90 L1112.07 303.40 A5.3 5.3 0 0 1 1122.67 303.40 L1117.25 321.90 A5.3 5.3 0 0 0 1127.85 321.90 L1122.44 303.40 A5.3 5.3 0 0 1 1133.04 303.40 L1127.62 321.90 A5.3 5.3 0 0 0 1138.22 321.90 L1132.81 303.40 A5.3 5.3 0 0 1 1143.41 303.40 L1137.99 321.90 A5.3 5.3 0 0 0 1148.59 321.90 L1143.18 303.40 A5.3 5.3 0 0 1 1153.78 303.40 L1148.37 321.90 A5.3 5.3 0 0 0 1158.96 321.90 L1153.55 303.40 A5.3 5.3 0 0 1 1164.15 303.40 L1158.73 321.90 A5.3 5.3 0 0 0 1169.33 321.90 L1163.92 303.40 A5.3 5.3 0 0 1 1174.52 303.40 L1169.11 321.90 A5.3 5.3 0 0 0 1179.70 321.90 L1174.29 303.40 A5.3 5.3 0 0 1 1184.89 303.40 L1179.47 321.90 A5.3 5.3 0 0 0 1190.07 321.90 L1184.66 303.40 A5.3 5.3 0 0 1 1195.26 303.40 L1189.85 321.90 A5.3 5.3 0 0 0 1200.44 321.90 L1195.03 303.40 A5.3 5.3 0 0 1 1205.63 303.40 L1200.21 321.90 A5.3 5.3 0 0 0 1210.81 321.90 L1205.40 303.40 A5.3 5.3 0 0 1 1216.00 303.40 L1210.58 321.90 A5.3 5.3 0 0 0 1221.18 321.90 L1215.77 303.40 A5.3 5.3 0 0 1 1226.37 303.40 L1220.95 321.90 A5.3 5.3 0 0 0 1231.55 321.90 L1226.14 303.40 A5.3 5.3 0 0 1 1236.74 303.40 L1231.33 321.90 A5.3 5.3 0 0 0 1241.92 321.90 L1236.51 303.40 A5.3 5.3 0 0 1 1247.11 303.40 L1241.69 321.90 A5.3 5.3 0 0 0 1252.29 321.90 L1246.88 303.40 A5.3 5.3 0 0 1 1257.48 303.40 L1252.06 321.90 A5.3 5.3 0 0 0 1262.66 321.90 L1257.25 303.40 A5.3 5.3 0 0 1 1267.85 303.40 L1262.43 321.90 A5.3 5.3 0 0 0 1273.03 321.90 L1267.62 303.40 A5.3 5.3 0 0 1 1278.22 303.40 L1272.81 321.90 A5.3 5.3 0 0 0 1283.40 321.90 L1277.99 303.40 A5.3 5.3 0 0 1 1288.59 303.40 L1283.17 321.90 A5.3 5.3 0 0 0 1293.77 321.90 L1288.36 303.40 A5.3 5.3 0 0 1 1298.96 303.40 L1293.54 321.90 A5.3 5.3 0 0 0 1304.14 321.90 L1298.73 303.40 A5.3 5.3 0 0 1 1309.33 303.40 L1303.91 321.90 A5.3 5.3 0 0 0 1314.51 321.90 L1309.10 303.40 A5.3 5.3 0 0 1 1319.70 303.40 L1314.28 321.90 A5.3 5.3 0 0 0 1324.88 321.90 L1319.47 303.40 A5.3 5.3 0 0 1 1330.07 303.40 L1324.65 321.90 A5.3 5.3 0 0 0 1335.25 321.90 L1329.84 303.40 A5.3 5.3 0 0 1 1340.44 303.40 L1335.02 321.90 A5.3 5.3 0 0 0 1345.62 321.90 L1340.21 303.40 A5.3 5.3 0 0 1 1350.81 303.40 L1345.39 321.90 A5.3 5.3 0 0 0 1355.99 321.90 L1350.58 303.40 A5.3 5.3 0 0 1 1361.18 303.40 L1355.76 321.90 A5.3 5.3 0 0 0 1366.36 321.90 L1360.95 303.40 A5.3 5.3 0 0 1 1371.55 303.40 L1366.13 321.90 A5.3 5.3 0 0 0 1376.73 321.90 L1371.32 303.40 A5.3 5.3 0 0 1 1381.92 303.40 L1376.50 321.90 A5.3 5.3 0 0 0 1387.10 321.90 L1381.69 303.40 A5.3 5.3 0 0 1 1392.29 303.40 L1386.88 321.90 A5.3 5.3 0 0 0 1397.47 321.90 L1392.06 303.40" fill="none" stroke="#8f8f38" stroke-width="1.05"/></g><g clip-path="url(#c2c)"><path d="M1396.75 321.90 L1391.33 303.40 A5.3 5.3 0 0 1 1401.93 303.40 L1396.52 321.90 A5.3 5.3 0 0 0 1407.12 321.90 L1401.70 303.40 A5.3 5.3 0 0 1 1412.30 303.40 L1406.88 321.90 A5.3 5.3 0 0 0 1417.48 321.90 L1412.07 303.40 A5.3 5.3 0 0 1 1422.67 303.40 L1417.25 321.90 A5.3 5.3 0 0 0 1427.85 321.90 L1422.44 303.40 A5.3 5.3 0 0 1 1433.04 303.40 L1427.62 321.90 A5.3 5.3 0 0 0 1438.22 321.90 L1432.81 303.40 A5.3 5.3 0 0 1 1443.41 303.40 L1437.99 321.90 A5.3 5.3 0 0 0 1448.59 321.90 L1443.18 303.40 A5.3 5.3 0 0 1 1453.78 303.40 L1448.37 321.90 A5.3 5.3 0 0 0 1458.96 321.90 L1453.55 303.40 A5.3 5.3 0 0 1 1464.15 303.40 L1458.73 321.90 A5.3 5.3 0 0 0 1469.33 321.90 L1463.92 303.40 A5.3 5.3 0 0 1 1474.52 303.40 L1469.11 321.90 A5.3 5.3 0 0 0 1479.70 321.90 L1474.29 303.40 A5.3 5.3 0 0 1 1484.89 303.40 L1479.47 321.90 A5.3 5.3 0 0 0 1490.07 321.90 L1484.66 303.40" fill="none" stroke="#8f8f38" stroke-width="1.05"/></g><clipPath id="eg1"><rect x="966.5" y="181.5" width="36.799999999999955" height="99.19999999999999"/></clipPath><rect x="966.5" y="181.5" width="36.799999999999955" height="99.19999999999999" fill="#caa785"/><g clip-path="url(#eg1)" fill="none" stroke="#8c6a4a" stroke-width="1"><circle cx="967.8" cy="231.2" r="1.3"/><ellipse cx="967.8" cy="231.2" rx="8.0" ry="6.7"/><ellipse cx="967.8" cy="231.2" rx="16.0" ry="13.4"/><ellipse cx="967.8" cy="231.2" rx="24.0" ry="20.2"/><ellipse cx="967.8" cy="231.2" rx="32.0" ry="26.9"/><ellipse cx="967.8" cy="231.2" rx="40.0" ry="33.6"/><ellipse cx="967.8" cy="231.2" rx="48.0" ry="40.3"/><ellipse cx="967.8" cy="231.2" rx="56.0" ry="47.0"/><ellipse cx="967.8" cy="231.2" rx="64.0" ry="53.8"/><ellipse cx="967.8" cy="231.2" rx="72.0" ry="60.5"/><ellipse cx="967.8" cy="231.2" rx="80.0" ry="67.2"/><ellipse cx="967.8" cy="231.2" rx="88.0" ry="73.9"/><ellipse cx="967.8" cy="231.2" rx="96.0" ry="80.6"/><ellipse cx="967.8" cy="231.2" rx="104.0" ry="87.4"/></g><rect x="966.5" y="181.5" width="36.799999999999955" height="99.19999999999999" fill="none" stroke="#74665a" stroke-width="1"/><clipPath id="eg2"><rect x="1376.0" y="181.5" width="37.0" height="99.19999999999999"/></clipPath><rect x="1376.0" y="181.5" width="37.0" height="99.19999999999999" fill="#caa785"/><g clip-path="url(#eg2)" fill="none" stroke="#8c6a4a" stroke-width="1"><circle cx="1377.3" cy="231.2" r="1.3"/><ellipse cx="1377.3" cy="231.2" rx="8.0" ry="6.7"/><ellipse cx="1377.3" cy="231.2" rx="16.0" ry="13.4"/><ellipse cx="1377.3" cy="231.2" rx="24.0" ry="20.2"/><ellipse cx="1377.3" cy="231.2" rx="32.0" ry="26.9"/><ellipse cx="1377.3" cy="231.2" rx="40.0" ry="33.6"/><ellipse cx="1377.3" cy="231.2" rx="48.0" ry="40.3"/><ellipse cx="1377.3" cy="231.2" rx="56.0" ry="47.0"/><ellipse cx="1377.3" cy="231.2" rx="64.0" ry="53.8"/><ellipse cx="1377.3" cy="231.2" rx="72.0" ry="60.5"/><ellipse cx="1377.3" cy="231.2" rx="80.0" ry="67.2"/><ellipse cx="1377.3" cy="231.2" rx="88.0" ry="73.9"/><ellipse cx="1377.3" cy="231.2" rx="96.0" ry="80.6"/><ellipse cx="1377.3" cy="231.2" rx="104.0" ry="87.4"/></g><rect x="1376.0" y="181.5" width="37.0" height="99.19999999999999" fill="none" stroke="#74665a" stroke-width="1"/><rect x="910.0" y="166.0" width="559.0" height="15.5" fill="#fff"/><rect x="910.50" y="166.50" width="21.38" height="14.50" fill="#caa785" stroke="#74665a" stroke-width="1"/><rect x="934.88" y="166.50" width="61.03" height="14.50" fill="#caa785" stroke="#74665a" stroke-width="1"/><rect x="998.91" y="166.50" width="61.03" height="14.50" fill="#caa785" stroke="#74665a" stroke-width="1"/><rect x="1062.94" y="166.50" width="61.03" height="14.50" fill="#caa785" stroke="#74665a" stroke-width="1"/><path d="M1121.5 169.0 C1100.5 169.0 1085.5 170.7 1083.5 174.5 C1085.5 178.4 1105.5 178.5 1122.5 179.5" fill="none" stroke="#8c6a4a" stroke-width="0.8" opacity="0.8"/><path d="M1065.4 170.0 C1072.4 169.5 1082.4 169.0 1092.4 168.5" fill="none" stroke="#8c6a4a" stroke-width="0.8" opacity="0.6"/><rect x="1126.97" y="166.50" width="61.03" height="14.50" fill="#caa785" stroke="#74665a" stroke-width="1"/><path d="M1185.5 169.0 C1170.2 169.0 1155.2 170.7 1153.2 174.5 C1155.2 178.4 1175.2 178.5 1186.5 179.5" fill="none" stroke="#8c6a4a" stroke-width="0.8" opacity="0.8"/><path d="M1129.5 170.0 C1136.5 169.5 1146.5 169.0 1156.5 168.5" fill="none" stroke="#8c6a4a" stroke-width="0.8" opacity="0.6"/><rect x="1191.00" y="166.50" width="61.03" height="14.50" fill="#caa785" stroke="#74665a" stroke-width="1"/><path d="M1249.5 169.0 C1231.0 169.0 1216.0 170.7 1214.0 174.5 C1216.0 178.4 1236.0 178.5 1250.5 179.5" fill="none" stroke="#8c6a4a" stroke-width="0.8" opacity="0.8"/><path d="M1193.5 170.0 C1200.5 169.5 1210.5 169.0 1220.5 168.5" fill="none" stroke="#8c6a4a" stroke-width="0.8" opacity="0.6"/><rect x="1255.03" y="166.50" width="61.03" height="14.50" fill="#caa785" stroke="#74665a" stroke-width="1"/><path d="M1313.6 169.0 C1299.4 169.0 1284.4 170.7 1282.4 174.5 C1284.4 178.4 1304.4 178.5 1314.6 179.5" fill="none" stroke="#8c6a4a" stroke-width="0.8" opacity="0.8"/><path d="M1257.5 170.0 C1264.5 169.5 1274.5 169.0 1284.5 168.5" fill="none" stroke="#8c6a4a" stroke-width="0.8" opacity="0.6"/><rect x="1319.06" y="166.50" width="61.03" height="14.50" fill="#caa785" stroke="#74665a" stroke-width="1"/><path d="M1377.6 169.0 C1363.8 169.0 1348.8 170.7 1346.8 174.5 C1348.8 178.4 1368.8 178.5 1378.6 179.5" fill="none" stroke="#8c6a4a" stroke-width="0.8" opacity="0.8"/><path d="M1321.6 170.0 C1328.6 169.5 1338.6 169.0 1348.6 168.5" fill="none" stroke="#8c6a4a" stroke-width="0.8" opacity="0.6"/><rect x="1383.09" y="166.50" width="61.03" height="14.50" fill="#caa785" stroke="#74665a" stroke-width="1"/><path d="M1441.6 169.0 C1417.4 169.0 1402.4 170.7 1400.4 174.5 C1402.4 178.4 1422.4 178.5 1442.6 179.5" fill="none" stroke="#8c6a4a" stroke-width="0.8" opacity="0.8"/><path d="M1385.6 170.0 C1392.6 169.5 1402.6 169.0 1412.6 168.5" fill="none" stroke="#8c6a4a" stroke-width="0.8" opacity="0.6"/><rect x="1447.12" y="166.50" width="21.38" height="14.50" fill="#caa785" stroke="#74665a" stroke-width="1"/><rect x="910.0" y="280.7" width="559.0" height="15.600000000000023" fill="#fff"/><rect x="910.50" y="281.20" width="21.38" height="14.60" fill="#caa785" stroke="#74665a" stroke-width="1"/><rect x="934.88" y="281.20" width="61.03" height="14.60" fill="#caa785" stroke="#74665a" stroke-width="1"/><rect x="998.91" y="281.20" width="61.03" height="14.60" fill="#caa785" stroke="#74665a" stroke-width="1"/><rect x="1062.94" y="281.20" width="61.03" height="14.60" fill="#caa785" stroke="#74665a" stroke-width="1"/><path d="M1121.5 283.7 C1107.6 283.7 1092.6 285.4 1090.6 289.3 C1092.6 293.2 1112.6 293.3 1122.5 294.3" fill="none" stroke="#8c6a4a" stroke-width="0.8" opacity="0.8"/><path d="M1065.4 284.7 C1072.4 284.2 1082.4 283.7 1092.4 283.2" fill="none" stroke="#8c6a4a" stroke-width="0.8" opacity="0.6"/><rect x="1126.97" y="281.20" width="61.03" height="14.60" fill="#caa785" stroke="#74665a" stroke-width="1"/><path d="M1185.5 283.7 C1173.9 283.7 1158.9 285.4 1156.9 289.3 C1158.9 293.2 1178.9 293.3 1186.5 294.3" fill="none" stroke="#8c6a4a" stroke-width="0.8" opacity="0.8"/><path d="M1129.5 284.7 C1136.5 284.2 1146.5 283.7 1156.5 283.2" fill="none" stroke="#8c6a4a" stroke-width="0.8" opacity="0.6"/><rect x="1191.00" y="281.20" width="61.03" height="14.60" fill="#caa785" stroke="#74665a" stroke-width="1"/><path d="M1249.5 283.7 C1238.9 283.7 1223.9 285.4 1221.9 289.3 C1223.9 293.2 1243.9 293.3 1250.5 294.3" fill="none" stroke="#8c6a4a" stroke-width="0.8" opacity="0.8"/><path d="M1193.5 284.7 C1200.5 284.2 1210.5 283.7 1220.5 283.2" fill="none" stroke="#8c6a4a" stroke-width="0.8" opacity="0.6"/><rect x="1255.03" y="281.20" width="61.03" height="14.60" fill="#caa785" stroke="#74665a" stroke-width="1"/><path d="M1313.6 283.7 C1305.7 283.7 1290.7 285.4 1288.7 289.3 C1290.7 293.2 1310.7 293.3 1314.6 294.3" fill="none" stroke="#8c6a4a" stroke-width="0.8" opacity="0.8"/><path d="M1257.5 284.7 C1264.5 284.2 1274.5 283.7 1284.5 283.2" fill="none" stroke="#8c6a4a" stroke-width="0.8" opacity="0.6"/><rect x="1319.06" y="281.20" width="61.03" height="14.60" fill="#caa785" stroke="#74665a" stroke-width="1"/><path d="M1377.6 283.7 C1365.9 283.7 1350.9 285.4 1348.9 289.3 C1350.9 293.2 1370.9 293.3 1378.6 294.3" fill="none" stroke="#8c6a4a" stroke-width="0.8" opacity="0.8"/><path d="M1321.6 284.7 C1328.6 284.2 1338.6 283.7 1348.6 283.2" fill="none" stroke="#8c6a4a" stroke-width="0.8" opacity="0.6"/><rect x="1383.09" y="281.20" width="61.03" height="14.60" fill="#caa785" stroke="#74665a" stroke-width="1"/><path d="M1441.6 283.7 C1433.4 283.7 1418.4 285.4 1416.4 289.3 C1418.4 293.2 1438.4 293.3 1442.6 294.3" fill="none" stroke="#8c6a4a" stroke-width="0.8" opacity="0.8"/><path d="M1385.6 284.7 C1392.6 284.2 1402.6 283.7 1412.6 283.2" fill="none" stroke="#8c6a4a" stroke-width="0.8" opacity="0.6"/><rect x="1447.12" y="281.20" width="21.38" height="14.60" fill="#caa785" stroke="#74665a" stroke-width="1"/><path d="M910.0 297.05 H1469.0" stroke="#ecece4" stroke-width="1.3"/><path d="M910.0 297.05 H1469.0" stroke="#111" stroke-width="1.3" stroke-dasharray="27.6 28.4"/><clipPath id="eg3"><rect x="972.3" y="296.3" width="31.0" height="31.5"/></clipPath><rect x="972.3" y="296.3" width="31.0" height="31.5" fill="#caa785"/><g clip-path="url(#eg3)" fill="none" stroke="#8c6a4a" stroke-width="1"><circle cx="973.5" cy="312.5" r="1.3"/><ellipse cx="973.5" cy="312.5" rx="6.0" ry="5.4"/><ellipse cx="973.5" cy="312.5" rx="12.0" ry="10.8"/><ellipse cx="973.5" cy="312.5" rx="18.0" ry="16.2"/><ellipse cx="973.5" cy="312.5" rx="24.0" ry="21.6"/><ellipse cx="973.5" cy="312.5" rx="30.0" ry="27.0"/><ellipse cx="973.5" cy="312.5" rx="36.0" ry="32.4"/><ellipse cx="973.5" cy="312.5" rx="42.0" ry="37.8"/><ellipse cx="973.5" cy="312.5" rx="48.0" ry="43.2"/><ellipse cx="973.5" cy="312.5" rx="54.0" ry="48.6"/></g><rect x="972.3" y="296.3" width="31.0" height="31.5" fill="none" stroke="#74665a" stroke-width="1"/><clipPath id="eg4"><rect x="1376.0" y="296.3" width="31.0" height="31.5"/></clipPath><rect x="1376.0" y="296.3" width="31.0" height="31.5" fill="#caa785"/><g clip-path="url(#eg4)" fill="none" stroke="#8c6a4a" stroke-width="1"><circle cx="1377.3" cy="312.5" r="1.3"/><ellipse cx="1377.3" cy="312.5" rx="6.0" ry="5.4"/><ellipse cx="1377.3" cy="312.5" rx="12.0" ry="10.8"/><ellipse cx="1377.3" cy="312.5" rx="18.0" ry="16.2"/><ellipse cx="1377.3" cy="312.5" rx="24.0" ry="21.6"/><ellipse cx="1377.3" cy="312.5" rx="30.0" ry="27.0"/><ellipse cx="1377.3" cy="312.5" rx="36.0" ry="32.4"/><ellipse cx="1377.3" cy="312.5" rx="42.0" ry="37.8"/><ellipse cx="1377.3" cy="312.5" rx="48.0" ry="43.2"/><ellipse cx="1377.3" cy="312.5" rx="54.0" ry="48.6"/></g><rect x="1376.0" y="296.3" width="31.0" height="31.5" fill="none" stroke="#74665a" stroke-width="1"/><rect x="910.0" y="327.8" width="559.0" height="7.800000000000011" fill="#dcdcdc"/><rect x="961.7" y="329.6" width="1" height="1.2" fill="#999"/><rect x="1408.9" y="330.6" width="1" height="1.2" fill="#b0b0b0"/><rect x="1356.9" y="329.7" width="1" height="1.2" fill="#b0b0b0"/><rect x="1058.8" y="329.9" width="1" height="1.2" fill="#c0c0c0"/><rect x="1463.8" y="331.3" width="1.5" height="1.2" fill="#a8a8a8"/><rect x="936.0" y="332.7" width="1" height="1.2" fill="#a8a8a8"/><rect x="1057.4" y="330.2" width="1.5" height="1.2" fill="#c0c0c0"/><rect x="1206.8" y="330.3" width="2" height="1.2" fill="#a8a8a8"/><rect x="1062.1" y="333.2" width="1.5" height="1.2" fill="#b0b0b0"/><rect x="920.5" y="332.8" width="1" height="1.2" fill="#999"/><rect x="1048.4" y="331.4" width="2" height="1.2" fill="#999"/><rect x="1215.0" y="333.6" width="1.5" height="1.2" fill="#a8a8a8"/><rect x="1457.3" y="330.9" width="1" height="1.2" fill="#999"/><rect x="1461.1" y="334.0" width="1" height="1.2" fill="#b0b0b0"/><rect x="951.3" y="332.9" width="1.5" height="1.2" fill="#999"/><rect x="1002.6" y="329.7" width="2" height="1.2" fill="#c0c0c0"/><rect x="1244.3" y="332.6" width="1" height="1.2" fill="#999"/><rect x="1014.9" y="330.6" width="1" height="1.2" fill="#c0c0c0"/><rect x="1114.1" y="330.9" width="1.5" height="1.2" fill="#a8a8a8"/><rect x="931.1" y="333.5" width="1" height="1.2" fill="#c0c0c0"/><rect x="1013.5" y="330.9" width="1" height="1.2" fill="#999"/><rect x="1066.8" y="332.4" width="1" height="1.2" fill="#b0b0b0"/><rect x="962.4" y="333.2" width="1" height="1.2" fill="#999"/><rect x="1237.7" y="331.2" width="1.5" height="1.2" fill="#c0c0c0"/><rect x="1261.5" y="329.7" width="1" height="1.2" fill="#999"/><rect x="1336.2" y="332.8" width="2" height="1.2" fill="#a8a8a8"/><rect x="1069.7" y="332.3" width="1" height="1.2" fill="#b0b0b0"/><rect x="1369.8" y="332.7" width="2" height="1.2" fill="#a8a8a8"/><rect x="1417.0" y="332.9" width="1" height="1.2" fill="#a8a8a8"/><rect x="959.2" y="329.5" width="1.5" height="1.2" fill="#b0b0b0"/><rect x="1121.0" y="331.5" width="1" height="1.2" fill="#b0b0b0"/><rect x="1259.6" y="332.6" width="2" height="1.2" fill="#c0c0c0"/><rect x="913.8" y="333.1" width="1" height="1.2" fill="#b0b0b0"/><rect x="1325.9" y="331.6" width="1" height="1.2" fill="#c0c0c0"/><rect x="1042.3" y="332.9" width="1" height="1.2" fill="#999"/><rect x="1186.1" y="331.1" width="2" height="1.2" fill="#c0c0c0"/><rect x="1337.7" y="332.3" width="1" height="1.2" fill="#b0b0b0"/><rect x="1244.8" y="330.9" width="1.5" height="1.2" fill="#a8a8a8"/><rect x="918.9" y="329.6" width="1.5" height="1.2" fill="#b0b0b0"/><rect x="1296.2" y="332.5" width="1.5" height="1.2" fill="#c0c0c0"/><rect x="1169.9" y="331.5" width="1" height="1.2" fill="#a8a8a8"/><rect x="1085.0" y="329.7" width="2" height="1.2" fill="#b0b0b0"/><rect x="1072.7" y="329.7" width="2" height="1.2" fill="#c0c0c0"/><rect x="1126.7" y="333.7" width="1" height="1.2" fill="#b0b0b0"/><rect x="1234.7" y="330.0" width="1.5" height="1.2" fill="#c0c0c0"/><rect x="985.6" y="333.2" width="1.5" height="1.2" fill="#b0b0b0"/><rect x="1302.4" y="330.4" width="2" height="1.2" fill="#999"/><rect x="925.8" y="329.3" width="2" height="1.2" fill="#999"/><rect x="1137.0" y="332.8" width="2" height="1.2" fill="#c0c0c0"/><rect x="1120.7" y="329.9" width="1.5" height="1.2" fill="#b0b0b0"/><rect x="1092.1" y="330.9" width="2" height="1.2" fill="#b0b0b0"/><rect x="1433.6" y="330.2" width="1" height="1.2" fill="#c0c0c0"/><rect x="1052.5" y="329.6" width="2" height="1.2" fill="#b0b0b0"/><rect x="1112.2" y="331.4" width="1.5" height="1.2" fill="#b0b0b0"/><rect x="1067.8" y="329.5" width="1.5" height="1.2" fill="#a8a8a8"/><rect x="1050.4" y="330.6" width="1.5" height="1.2" fill="#a8a8a8"/><rect x="1341.1" y="333.1" width="2" height="1.2" fill="#b0b0b0"/><rect x="1362.6" y="332.3" width="1" height="1.2" fill="#b0b0b0"/><rect x="939.5" y="332.8" width="2" height="1.2" fill="#a8a8a8"/><rect x="1269.7" y="330.7" width="1" height="1.2" fill="#a8a8a8"/><path d="M910.0 327.8 H1469.0 M910.0 335.6 H1469.0" stroke="#8a8a8a" stroke-width="1.1"/><path d="M1109.4 114.5 C1110.4 116.7 1112.8000000000002 118.4 1112.8000000000002 120.10000000000001 A3.4 3.4 0 0 1 1106.0 120.10000000000001 C1106.0 118.4 1108.4 116.7 1109.4 114.5 Z" fill="#3d7de0" stroke="#fff" stroke-width="0.8"/><path d="M1135.1 118.8 C1136.1 121 1138.5 122.7 1138.5 124.4 A3.4 3.4 0 0 1 1131.6999999999998 124.4 C1131.6999999999998 122.7 1134.1 121 1135.1 118.8 Z" fill="#3d7de0" stroke="#fff" stroke-width="0.8"/><path d="M1174.6 116.8 C1175.6 119 1178.0 120.7 1178.0 122.4 A3.4 3.4 0 0 1 1171.1999999999998 122.4 C1171.1999999999998 120.7 1173.6 119 1174.6 116.8 Z" fill="#3d7de0" stroke="#fff" stroke-width="0.8"/><path d="M1193.5 116.8 C1194.5 119 1196.9 120.7 1196.9 122.4 A3.4 3.4 0 0 1 1190.1 122.4 C1190.1 120.7 1192.5 119 1193.5 116.8 Z" fill="#3d7de0" stroke="#fff" stroke-width="0.8"/><path d="M1254.8 115.8 C1255.8 118 1258.2 119.7 1258.2 121.4 A3.4 3.4 0 0 1 1251.3999999999999 121.4 C1251.3999999999999 119.7 1253.8 118 1254.8 115.8 Z" fill="#3d7de0" stroke="#fff" stroke-width="0.8"/><path d="M1296 114.8 C1297 117 1299.4 118.7 1299.4 120.4 A3.4 3.4 0 0 1 1292.6 120.4 C1292.6 118.7 1295 117 1296 114.8 Z" fill="#3d7de0" stroke="#fff" stroke-width="0.8"/><path d="M870 113.3 V335.6" stroke="#8a8a8a" stroke-width="1"/><path d="M865 113.3 H875" stroke="#8a8a8a" stroke-width="1"/><path d="M865 122.6 H875" stroke="#8a8a8a" stroke-width="1"/><path d="M865 166.0 H875" stroke="#8a8a8a" stroke-width="1"/><path d="M865 181.5 H875" stroke="#8a8a8a" stroke-width="1"/><path d="M865 280.7 H875" stroke="#8a8a8a" stroke-width="1"/><path d="M865 296.3 H875" stroke="#8a8a8a" stroke-width="1"/><path d="M865 327.8 H875" stroke="#8a8a8a" stroke-width="1"/><path d="M865 335.6 H875" stroke="#8a8a8a" stroke-width="1"/><text x="875" y="149" font-family="Liberation Sans, sans-serif" font-size="14" fill="#8c8c8c" text-anchor="start" >70</text><text x="875" y="179" font-family="Liberation Sans, sans-serif" font-size="14" fill="#8c8c8c" text-anchor="start" >25</text><text x="875" y="236" font-family="Liberation Sans, sans-serif" font-size="14" fill="#8c8c8c" text-anchor="start" >160</text><text x="875" y="294" font-family="Liberation Sans, sans-serif" font-size="14" fill="#8c8c8c" text-anchor="start" >25</text><text x="875" y="317" font-family="Liberation Sans, sans-serif" font-size="14" fill="#8c8c8c" text-anchor="start" >50</text><text x="863.5" y="224" font-family="Liberation Sans, sans-serif" font-size="13.5" fill="#8c8c8c" text-anchor="middle" transform="rotate(-90 863.5 224)">358</text><path d="M972.3 365.5 H1375.7" stroke="#8a8a8a" stroke-width="1"/><path d="M972.3 360.5 V370.7" stroke="#8a8a8a" stroke-width="1"/><path d="M1003.4 360.5 V370.7" stroke="#8a8a8a" stroke-width="1"/><path d="M1375.7 360.5 V370.7" stroke="#8a8a8a" stroke-width="1"/><path d="M1126.5 385.5 H1190.5" stroke="#8a8a8a" stroke-width="1"/><path d="M1126.5 380.5 V390.7" stroke="#8a8a8a" stroke-width="1"/><path d="M1188.5 380.5 V390.7" stroke="#8a8a8a" stroke-width="1"/><path d="M1190.5 380.5 V390.7" stroke="#8a8a8a" stroke-width="1"/><path d="M965.8 405.3 H1375.7" stroke="#8a8a8a" stroke-width="1"/><path d="M965.8 400.3 V410.5" stroke="#8a8a8a" stroke-width="1"/><path d="M1003.4 400.3 V410.5" stroke="#8a8a8a" stroke-width="1"/><path d="M1375.7 400.3 V410.5" stroke="#8a8a8a" stroke-width="1"/><text x="987.8" y="381" font-family="Liberation Sans, sans-serif" font-size="14" fill="#8c8c8c" text-anchor="middle" >50</text><text x="1189.5" y="381" font-family="Liberation Sans, sans-serif" font-size="14" fill="#8c8c8c" text-anchor="middle" >600</text><text x="1157.8" y="401" font-family="Liberation Sans, sans-serif" font-size="14" fill="#8c8c8c" text-anchor="middle" >100</text><text x="984.6" y="421" font-family="Liberation Sans, sans-serif" font-size="14" fill="#8c8c8c" text-anchor="middle" >60</text><text x="1189.5" y="421" font-family="Liberation Sans, sans-serif" font-size="14" fill="#8c8c8c" text-anchor="middle" >600</text><text x="1189.5" y="107" font-family="Liberation Sans, sans-serif" font-size="14" fill="#8c8c8c" text-anchor="middle" >Outside</text><text x="1189.5" y="352" font-family="Liberation Sans, sans-serif" font-size="14" fill="#8c8c8c" text-anchor="middle" >Inside</text><text x="1469" y="352" font-family="Liberation Sans, sans-serif" font-size="14" fill="#bdbdbd" text-anchor="end" >ubakus.de</text><path d="M1463.1 117.7 H1489.2 L1514 93" fill="none" stroke="#8a8a8a" stroke-width="1"/><circle cx="1463.1" cy="117.7" r="1.3" fill="#333"/><path d="M1463.1 128.7 H1489.2 L1514 117" fill="none" stroke="#8a8a8a" stroke-width="1"/><circle cx="1463.1" cy="128.7" r="1.3" fill="#333"/><path d="M1463.1 168.8 H1489.2 L1514 141" fill="none" stroke="#8a8a8a" stroke-width="1"/><circle cx="1463.1" cy="168.8" r="1.3" fill="#333"/><path d="M1463.1 171.8 H1489.2 L1514 165" fill="none" stroke="#8a8a8a" stroke-width="1"/><circle cx="1463.1" cy="171.8" r="1.3" fill="#333"/><path d="M1406.9 188.8 H1514" fill="none" stroke="#8a8a8a" stroke-width="1"/><circle cx="1406.9" cy="188.8" r="1.3" fill="#333"/><path d="M1463 212.8 H1514" fill="none" stroke="#8a8a8a" stroke-width="1"/><circle cx="1463" cy="212.8" r="1.3" fill="#333"/><path d="M1463 283.8 H1489.2 L1514 237" fill="none" stroke="#8a8a8a" stroke-width="1"/><circle cx="1463" cy="283.8" r="1.3" fill="#333"/><path d="M1463 286.8 H1489.2 L1514 261" fill="none" stroke="#8a8a8a" stroke-width="1"/><circle cx="1463" cy="286.8" r="1.3" fill="#333"/><path d="M1463 296.4 H1489.2 L1514 285" fill="none" stroke="#8a8a8a" stroke-width="1"/><circle cx="1463" cy="296.4" r="1.3" fill="#333"/><path d="M1401 309 H1514" fill="none" stroke="#8a8a8a" stroke-width="1"/><circle cx="1401" cy="309" r="1.3" fill="#333"/><path d="M1463 322 H1489.2 L1514 333" fill="none" stroke="#8a8a8a" stroke-width="1"/><circle cx="1463" cy="322" r="1.3" fill="#333"/><path d="M1463 331.7 H1489.2 L1514 357" fill="none" stroke="#8a8a8a" stroke-width="1"/><circle cx="1463" cy="331.7" r="1.3" fill="#333"/><text x="1519.5" y="98" font-family="Liberation Sans, sans-serif" font-size="14" fill="#555" text-anchor="start" >Cement plaster (15mm)</text><text x="1519.5" y="122" font-family="Liberation Sans, sans-serif" font-size="14" fill="#555" text-anchor="start" >Installation level (70mm)</text><text x="1519.5" y="146" font-family="Liberation Sans, sans-serif" font-size="14" fill="#555" text-anchor="start" >Spruce (25x100mm²)</text><text x="1519.5" y="170" font-family="Liberation Sans, sans-serif" font-size="14" fill="#555" text-anchor="start" >Installation level (25mm)</text><text x="1519.5" y="194" font-family="Liberation Sans, sans-serif" font-size="14" fill="#555" text-anchor="start" >structural timber (160x60mm²)</text><text x="1519.5" y="218" font-family="Liberation Sans, sans-serif" font-size="14" fill="#555" text-anchor="start" >Rockwool, stone wool (160mm)</text><text x="1519.5" y="242" font-family="Liberation Sans, sans-serif" font-size="14" fill="#555" text-anchor="start" >structural timber (25x100mm²)</text><text x="1519.5" y="266" font-family="Liberation Sans, sans-serif" font-size="14" fill="#555" text-anchor="start" >Luft (25mm)</text><text x="1519.5" y="290" font-family="Liberation Sans, sans-serif" font-size="14" fill="#555" text-anchor="start" >Vapor retarder sd=10m (0,5mm)</text><text x="1519.5" y="314" font-family="Liberation Sans, sans-serif" font-size="14" fill="#555" text-anchor="start" >Rafter (spruce) (50x50mm²)</text><text x="1519.5" y="338" font-family="Liberation Sans, sans-serif" font-size="14" fill="#555" text-anchor="start" >Rockwool, stone wool (50mm)</text><text x="1519.5" y="362" font-family="Liberation Sans, sans-serif" font-size="14" fill="#555" text-anchor="start" >Gypsum board (12,5mm)</text><circle cx="1229.5" cy="118.2" r="10.1" fill="#fff" stroke="#3a3a3a" stroke-width="1.1"/><text x="1229.5" y="122.9" font-family="Liberation Sans, sans-serif" font-size="13.5" fill="#222" text-anchor="middle" >8</text><circle cx="1229.5" cy="144" r="10.1" fill="#fff" stroke="#3a3a3a" stroke-width="1.1"/><text x="1229.5" y="148.7" font-family="Liberation Sans, sans-serif" font-size="13.5" fill="#222" text-anchor="middle" >7</text><circle cx="1229.5" cy="174" r="10.1" fill="#fff" stroke="#3a3a3a" stroke-width="1.1"/><text x="1229.5" y="178.7" font-family="Liberation Sans, sans-serif" font-size="13.5" fill="#222" text-anchor="middle" >6</text><circle cx="1229.5" cy="231.2" r="10.1" fill="#fff" stroke="#3a3a3a" stroke-width="1.1"/><text x="1229.5" y="235.89999999999998" font-family="Liberation Sans, sans-serif" font-size="13.5" fill="#222" text-anchor="middle" >5</text><circle cx="1229.6" cy="288.4" r="10.1" fill="#fff" stroke="#3a3a3a" stroke-width="1.1"/><text x="1229.6" y="293.09999999999997" font-family="Liberation Sans, sans-serif" font-size="13.5" fill="#222" text-anchor="middle" >4</text><circle cx="1209.5" cy="296.3" r="10.1" fill="#fff" stroke="#3a3a3a" stroke-width="1.1"/><text x="1209.5" y="301.0" font-family="Liberation Sans, sans-serif" font-size="13.5" fill="#222" text-anchor="middle" >3</text><circle cx="1189.4" cy="312.2" r="10.1" fill="#fff" stroke="#3a3a3a" stroke-width="1.1"/><text x="1189.4" y="316.9" font-family="Liberation Sans, sans-serif" font-size="13.5" fill="#222" text-anchor="middle" >2</text><circle cx="1169.6" cy="331.4" r="10.1" fill="#fff" stroke="#3a3a3a" stroke-width="1.1"/><text x="1169.6" y="336.09999999999997" font-family="Liberation Sans, sans-serif" font-size="13.5" fill="#222" text-anchor="middle" >1</text></svg>
<div class="t" style="left:705px;top:665.8px;font-size:13px;line-height:15px;color:#72201e">Kommertskasutus ainult tasulise juurdepääsuga. <span style="color:#3347b0">Rohkem informatsiooni</span></div>
<div style="position:absolute;left:0;top:689px;width:1823px;height:148px;background:linear-gradient(#555555,#474747);border-top:1px solid #2e2e2e"></div>
<div class="t" style="left:374.60px;top:703.76px;font-size:20.6px;line-height:20.6px;color:#f2f2f2;">U-value:</div>
<div class="t" style="left:458.60px;top:700.38px;font-size:24.6px;line-height:24.6px;color:#f2f2f2;">0,189</div>
<div class="t" style="left:526.80px;top:711.27px;font-size:11.5px;line-height:11.5px;color:#e8e8e8;font-weight:bold;letter-spacing:-0.3px">W/(m²K)</div>
<svg style="position:absolute;left:585px;top:704px" width="20" height="20" viewBox="0 0 20 20"><path d="M3.2 1.6 A5 5 0 0 0 2.3 7.8 A5 5 0 0 0 7.6 9.0 L16.2 17.6 A1.6 1.6 0 0 0 18.6 15.3 L10.0 6.7 A5 5 0 0 0 8.7 1.4 A5 5 0 0 0 3.0 0.6 L6.2 3.8 L5.3 6.3 L2.9 7.0 Z" fill="#9a9a9a" transform="translate(0 0.5)"/></svg>
<div style="position:absolute;left:374.6px;top:732.9px;width:231px;height:11.7px;background:rgba(0,0,0,0.04);border-top:1px solid #3c3c3c;border-bottom:1px solid #8c8c8c;border-right:1px solid #9a9a9a"></div>
<div style="position:absolute;left:374.6px;top:733.6px;width:44.6px;height:10px;background:#8fc653"></div>
<div style="position:absolute;left:374.6px;top:745.4px;width:231px;height:3px;background:linear-gradient(90deg,#86a55c 0%,#86a55c 24.5%,#9a3a30 25.5%,#9a2f2f 100%);border-bottom:0.6px solid rgba(255,255,255,0.35)"></div>
<div class="t" style="left:374.60px;top:755.00px;font-size:13px;line-height:13px;color:#f2f2f2;">GEG 2020 Bestand U ≤ 0.24</div>
<div style="position:absolute;left:544.6px;top:752.8px;width:15px;height:15px;background:#cfcfcf"></div>
<div style="position:absolute;left:547.6px;top:756.8px;width:0;height:0;border-left:4.5px solid transparent;border-right:4.5px solid transparent;border-top:8px solid #444"></div>
<div class="t" style="left:374.60px;top:781.80px;font-size:13px;line-height:13px;color:#f2f2f2;">Kasvuhooneefekti soodustamine:</div>
<div style="position:absolute;left:374.6px;top:798.3px;width:231px;height:7.7px;background:rgba(0,0,0,0.04);border-top:1px solid #3c3c3c;border-bottom:1px solid #8c8c8c;border-right:1px solid #9a9a9a"></div>
<div style="position:absolute;left:374.6px;top:799px;width:37.4px;height:6px;background:#8fc653"></div>
<div style="position:absolute;left:374.6px;top:807px;width:231px;height:3px;background:linear-gradient(90deg,#7f9a5a 0%,#8fa25c 30%,#c2a246 62%,#a9453a 85%,#8e2b2b 100%);border-bottom:0.6px solid rgba(255,255,255,0.35)"></div>
<div class="t" style="left:374.60px;top:816.80px;font-size:13px;line-height:13px;color:#bdbdbd;letter-spacing:-0.7px">suurepärane</div>
<div class="t" style="right:1217.30px;text-align:right;top:816.80px;font-size:13px;line-height:13px;color:#bdbdbd;letter-spacing:-0.7px">ebapiisav</div>
<div class="t" style="left:626.70px;top:701.60px;font-size:13px;line-height:13px;color:#f2f2f2;">Kondensaat: 0,025 kg/m²</div>
<div style="position:absolute;left:626.7px;top:718.3px;width:231px;height:7.7px;background:rgba(0,0,0,0.04);border-top:1px solid #3c3c3c;border-bottom:1px solid #8c8c8c;border-right:1px solid #9a9a9a"></div>
<div style="position:absolute;left:626.7px;top:719px;width:6.1px;height:6px;background:#8fc653"></div>
<div style="position:absolute;left:626.7px;top:727px;width:231px;height:3px;background:linear-gradient(90deg,#7f9a5a 0%,#8fa25c 30%,#c2a246 62%,#a9453a 85%,#8e2b2b 100%);border-bottom:0.6px solid rgba(255,255,255,0.35)"></div>
<div class="t" style="left:626.70px;top:741.40px;font-size:13px;line-height:13px;color:#f2f2f2;">puidu niiskusesisaldus: + 0,0 %</div>
<div style="position:absolute;left:626.7px;top:758.5999999999999px;width:231px;height:7.7px;background:rgba(0,0,0,0.04);border-top:1px solid #3c3c3c;border-bottom:1px solid #8c8c8c;border-right:1px solid #9a9a9a"></div>
<div style="position:absolute;left:626.7px;top:759.3px;width:1.8px;height:6px;background:#8fc653"></div>
<div style="position:absolute;left:626.7px;top:767.3px;width:231px;height:3px;background:linear-gradient(90deg,#7f9a5a 0%,#8fa25c 25%,#c2a246 42%,#a9453a 55%,#8e2b2b 100%);border-bottom:0.6px solid rgba(255,255,255,0.35)"></div>
<div class="t" style="left:626.70px;top:781.60px;font-size:13px;line-height:13px;color:#f2f2f2;">Kuivamisaeg: 3 Days</div>
<div style="position:absolute;left:626.7px;top:798.3px;width:231px;height:7.7px;background:rgba(0,0,0,0.04);border-top:1px solid #3c3c3c;border-bottom:1px solid #8c8c8c;border-right:1px solid #9a9a9a"></div>
<div style="position:absolute;left:626.7px;top:799px;width:6.6px;height:6px;background:#8fc653"></div>
<div style="position:absolute;left:626.7px;top:807px;width:231px;height:3px;background:linear-gradient(90deg,#7f9a5a 0%,#8fa25c 30%,#c2a246 62%,#a9453a 85%,#8e2b2b 100%);border-bottom:0.6px solid rgba(255,255,255,0.35)"></div>
<div class="t" style="left:626.70px;top:816.80px;font-size:13px;line-height:13px;color:#bdbdbd;letter-spacing:-0.7px">suurepärane</div>
<div class="t" style="right:965.30px;text-align:right;top:816.80px;font-size:13px;line-height:13px;color:#bdbdbd;letter-spacing:-0.7px">ebapiisav</div>
<div class="t" style="left:878.00px;top:701.60px;font-size:13px;line-height:13px;color:#f2f2f2;">sd-väärtus: 13 m</div>
<div class="t" style="right:713.20px;text-align:right;top:701.60px;font-size:13px;line-height:13px;color:#f2f2f2;">Paksus: 35,8 cm</div>
<div class="t" style="right:713.20px;text-align:right;top:719.70px;font-size:13px;line-height:13px;color:#f2f2f2;">Kaal: 79 kg/m²</div>
<div class="t" style="left:878.00px;top:739.30px;font-size:13px;line-height:13px;color:#f2f2f2;">Sisepind: 17,4°C (59%)</div>
<div style="position:absolute;left:878px;top:756.5px;width:231.8px;height:7.7px;background:rgba(0,0,0,0.04);border-top:1px solid #3c3c3c;border-bottom:1px solid #8c8c8c;border-right:1px solid #9a9a9a"></div>
<div style="position:absolute;left:878px;top:757.2px;width:95px;height:6px;background:#8fc653"></div>
<div style="position:absolute;left:878px;top:765.2px;width:231.8px;height:3px;background:linear-gradient(90deg,#8e2b2b 0%,#a9453a 12%,#c2a246 30%,#8fa25c 50%,#7f9a5a 100%);border-bottom:0.6px solid rgba(255,255,255,0.35)"></div>
<div class="t" style="left:878.00px;top:780.00px;font-size:13px;line-height:13px;color:#f2f2f2;">Kuivatusvaru: 1479 g/m²a</div>
<div style="position:absolute;left:878px;top:796.4px;width:231.8px;height:7.7px;background:rgba(0,0,0,0.04);border-top:1px solid #3c3c3c;border-bottom:1px solid #8c8c8c;border-right:1px solid #9a9a9a"></div>
<div style="position:absolute;left:878px;top:797.1px;width:231.2px;height:6px;background:#8fc653"></div>
<div style="position:absolute;left:878px;top:805.1px;width:231.8px;height:3px;background:linear-gradient(90deg,#8e2b2b 0%,#a9453a 12%,#c2a246 30%,#8fa25c 50%,#7f9a5a 100%);border-bottom:0.6px solid rgba(255,255,255,0.35)"></div>
<div class="t" style="left:878.00px;top:814.40px;font-size:13px;line-height:13px;color:#bdbdbd;letter-spacing:-0.7px">ebapiisav</div>
<div class="t" style="right:713.20px;text-align:right;top:814.40px;font-size:13px;line-height:13px;color:#bdbdbd;letter-spacing:-0.7px">suurepärane</div>
<div style="position:absolute;left:1130.7px;top:690px;width:231.1px;height:147px;overflow:hidden">
<div class="t" style="left:0.00px;top:11.50px;font-size:13px;line-height:13px;color:#f2f2f2">temp. amplituudsummutus (1/TAV): 13,0</div>
<div class="t" style="left:0.00px;top:51.80px;font-size:13px;line-height:13px;color:#f2f2f2">faasinihe: 11 h</div>
<div class="t" style="left:0.00px;top:91.40px;font-size:13px;line-height:13px;color:#f2f2f2">Soojuse salvestamise võimsus: 33 kJ/m²K</div>
</div>
<div style="position:absolute;left:1130.7px;top:718.5px;width:231.1px;height:7.7px;background:rgba(0,0,0,0.04);border-top:1px solid #3c3c3c;border-bottom:1px solid #8c8c8c;border-right:1px solid #9a9a9a"></div>
<div style="position:absolute;left:1130.7px;top:719.2px;width:149.5px;height:6px;background:#8fc653"></div>
<div style="position:absolute;left:1130.7px;top:727.2px;width:231.1px;height:3px;background:linear-gradient(90deg,#8e2b2b 0%,#a9453a 12%,#c2a246 30%,#8fa25c 50%,#7f9a5a 100%);border-bottom:0.6px solid rgba(255,255,255,0.35)"></div>
<div style="position:absolute;left:1130.7px;top:758.5px;width:231.1px;height:7.7px;background:rgba(0,0,0,0.04);border-top:1px solid #3c3c3c;border-bottom:1px solid #8c8c8c;border-right:1px solid #9a9a9a"></div>
<div style="position:absolute;left:1130.7px;top:759.2px;width:141.2px;height:6px;background:#8fc653"></div>
<div style="position:absolute;left:1130.7px;top:767.2px;width:231.1px;height:3px;background:linear-gradient(90deg,#8e2b2b 0%,#a9453a 12%,#c2a246 30%,#8fa25c 50%,#7f9a5a 100%);border-bottom:0.6px solid rgba(255,255,255,0.35)"></div>
<div style="position:absolute;left:1130.7px;top:798.0999999999999px;width:231.1px;height:7.7px;background:rgba(0,0,0,0.04);border-top:1px solid #3c3c3c;border-bottom:1px solid #8c8c8c;border-right:1px solid #9a9a9a"></div>
<div style="position:absolute;left:1130.7px;top:798.8px;width:76.1px;height:6px;background:#d6d23c"></div>
<div style="position:absolute;left:1130.7px;top:806.8px;width:231.1px;height:3px;background:linear-gradient(90deg,#8e2b2b 0%,#a9453a 12%,#c2a246 30%,#8fa25c 50%,#7f9a5a 100%);border-bottom:0.6px solid rgba(255,255,255,0.35)"></div>
<div class="t" style="left:1130.70px;top:816.30px;font-size:13px;line-height:13px;color:#bdbdbd;letter-spacing:-0.7px">ebapiisav</div>
<div class="t" style="right:461.20px;text-align:right;top:816.30px;font-size:13px;line-height:13px;color:#bdbdbd;letter-spacing:-0.7px">suurepärane</div>
</body></html>
